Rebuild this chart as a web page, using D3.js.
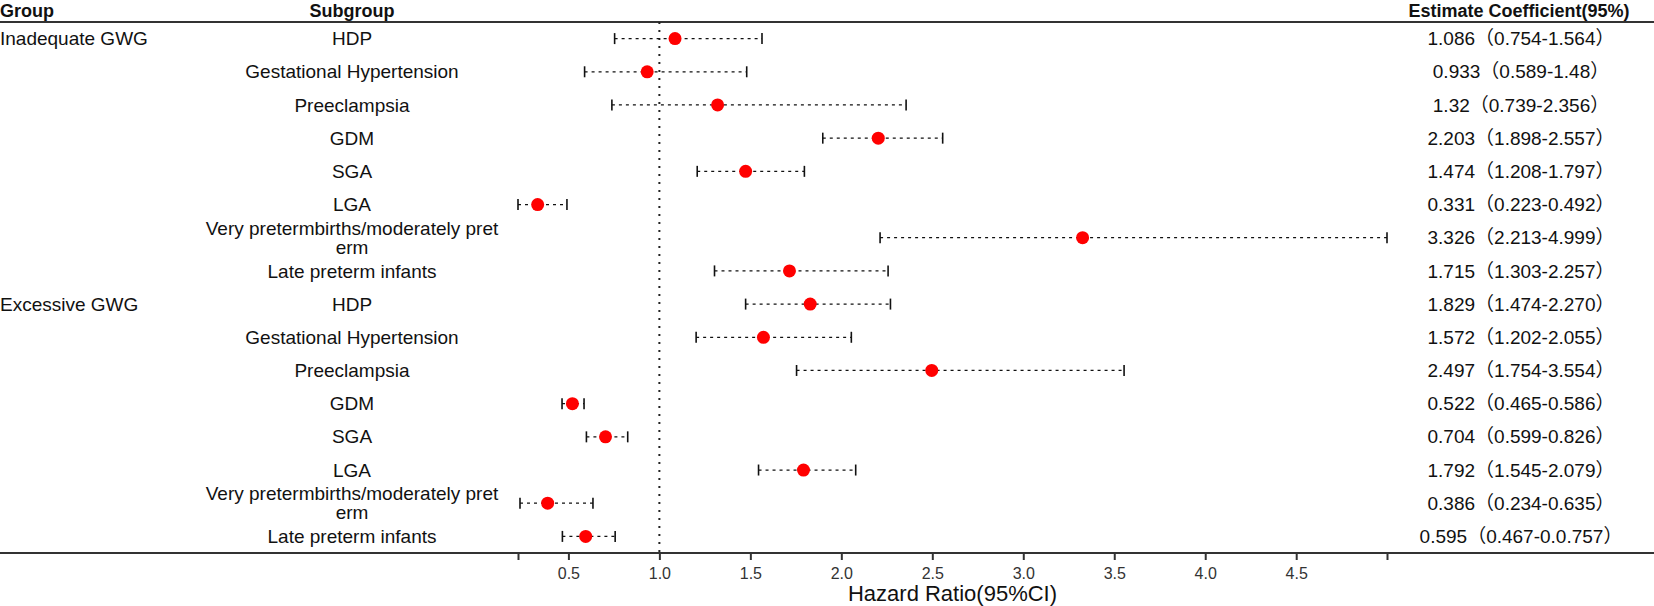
<!DOCTYPE html>
<html>
<head>
<meta charset="utf-8">
<script src="https://cdn.jsdelivr.net/npm/d3@7"></script>
<style>
  body { margin: 0; background: #fff; }
  svg { display: block; font-family: "Liberation Sans", Arial, sans-serif; }
</style>
</head>
<body>
<div id="chart"></div>
<script>
// rows of the forest plot, top to bottom
const groups = ['Inadequate GWG', '', '', '', '', '', '', '',
  'Excessive GWG', '', '', '', '', '', '', '']
const subgroups = ['HDP', 'Gestational Hypertension', 'Preeclampsia', 'GDM', 'SGA', 'LGA',
  'Very pretermbirths/moderately pret\nerm', 'Late preterm infants',
  'HDP', 'Gestational Hypertension', 'Preeclampsia', 'GDM', 'SGA', 'LGA',
  'Very pretermbirths/moderately pret\nerm', 'Late preterm infants']
const estimate = [1.086, 0.933, 1.32, 2.203, 1.474, 0.331, 3.326, 1.715,
  1.829, 1.572, 2.497, 0.522, 0.704, 1.792, 0.386, 0.595]
const lower = [0.754, 0.589, 0.739, 1.898, 1.208, 0.223, 2.213, 1.303,
  1.474, 1.202, 1.754, 0.465, 0.599, 1.545, 0.234, 0.467]
const upper = [1.564, 1.48, 2.356, 2.557, 1.797, 0.492, 4.999, 2.257,
  2.270, 2.055, 3.554, 0.586, 0.826, 2.079, 0.635, 0.757]
const estLabels = ['1.086（0.754-1.564）', '0.933（0.589-1.48）', '1.32（0.739-2.356）',
  '2.203（1.898-2.557）', '1.474（1.208-1.797）', '0.331（0.223-0.492）',
  '3.326（2.213-4.999）', '1.715（1.303-2.257）', '1.829（1.474-2.270）',
  '1.572（1.202-2.055）', '2.497（1.754-3.554）', '0.522（0.465-0.586）',
  '0.704（0.599-0.826）', '1.792（1.545-2.079）', '0.386（0.234-0.635）',
  '0.595（0.467-0.0.757）']
const tickValues = [0.5, 1.0, 1.5, 2.0, 2.5, 3.0, 3.5, 4.0, 4.5]
const tickLabels = ['0.5', '1.0', '1.5', '2.0', '2.5', '3.0', '3.5', '4.0', '4.5']

const width = 1654
const height = 606
const topLine = 22
const axisY = 553

const svg = d3.select('#chart')
  .append('svg')
  .attr('width', width)
  .attr('height', height)

const rows = d3.range(estimate.length)

const x = d3.scaleLinear()
  .domain([d3.min(lower), d3.max(upper)])
  .range([518, 1387])

const y = d3.scaleBand()
  .domain(rows)
  .range([topLine, axisY])

const rowY = i => y(i) + y.bandwidth() / 2

// column headers
const header = svg.append('g')
  .attr('font-weight', 'bold')
  .attr('font-size', 18)
  .attr('fill', '#111')
header.append('text').attr('x', 0).attr('y', 16.6).text('Group')
header.append('text').attr('x', 352).attr('y', 16.6).attr('text-anchor', 'middle').text('Subgroup')
header.append('text').attr('x', 1519).attr('y', 16.6).attr('text-anchor', 'middle').text('Estimate Coefficient(95%)')

svg.append('line')
  .attr('x1', 0).attr('x2', width)
  .attr('y1', topLine).attr('y2', topLine)
  .attr('stroke', '#333')
  .attr('stroke-width', 2)

// reference line at HR = 1
svg.append('line')
  .attr('x1', x(1)).attr('x2', x(1))
  .attr('y1', topLine).attr('y2', axisY)
  .attr('stroke', '#222')
  .attr('stroke-width', 2)
  .attr('stroke-dasharray', '2,6')

// text columns
const body = svg.append('g')
  .attr('font-size', 19)
  .attr('fill', '#111')

body.selectAll('.group')
  .data(rows)
  .enter()
  .append('text')
  .attr('class', 'group')
  .attr('x', 0)
  .attr('y', d => rowY(d))
  .attr('dy', '0.35em')
  .text(d => groups[d])

body.selectAll('.subgroup')
  .data(rows)
  .enter()
  .append('text')
  .attr('class', 'subgroup')
  .attr('text-anchor', 'middle')
  .each(function(d) {
    const lines = subgroups[d].split('\n')
    const lh = 19
    const y0 = rowY(d) - (lines.length - 1) * lh / 2
    d3.select(this).selectAll('tspan')
      .data(lines)
      .enter()
      .append('tspan')
      .attr('x', 352)
      .attr('y', (l, k) => y0 + k * lh)
      .attr('dy', '0.35em')
      .text(l => l)
  })

body.selectAll('.est')
  .data(rows)
  .enter()
  .append('text')
  .attr('class', 'est')
  .attr('x', 1521)
  .attr('y', d => rowY(d))
  .attr('dy', '0.35em')
  .attr('text-anchor', 'middle')
  .style('font-family', '"Liberation Sans", "Noto Sans CJK SC", sans-serif')
  .text(d => estLabels[d])

// confidence intervals
const ci = svg.append('g')

ci.selectAll('.ci')
  .data(rows)
  .enter()
  .append('line')
  .attr('class', 'ci')
  .attr('x1', d => x(lower[d]))
  .attr('x2', d => x(upper[d]))
  .attr('y1', d => rowY(d))
  .attr('y2', d => rowY(d))
  .attr('stroke', '#111')
  .attr('stroke-width', 1.2)
  .attr('stroke-dasharray', '3,4')

const caps = rows.flatMap(d => [{ row: d, v: lower[d] }, { row: d, v: upper[d] }])
ci.selectAll('.cap')
  .data(caps)
  .enter()
  .append('line')
  .attr('class', 'cap')
  .attr('x1', d => x(d.v))
  .attr('x2', d => x(d.v))
  .attr('y1', d => rowY(d.row) - 5.5)
  .attr('y2', d => rowY(d.row) + 5.5)
  .attr('stroke', '#111')
  .attr('stroke-width', 1.6)

ci.selectAll('circle')
  .data(rows)
  .enter()
  .append('circle')
  .attr('cx', d => x(estimate[d]))
  .attr('cy', d => rowY(d))
  .attr('r', 6.5)
  .attr('fill', '#ff0000')

// x axis
svg.append('line')
  .attr('x1', 0).attr('x2', width)
  .attr('y1', axisY).attr('y2', axisY)
  .attr('stroke', '#333')
  .attr('stroke-width', 2)

const allTicks = [x.domain()[0]].concat(tickValues, [x.domain()[1]])
const axis = d3.axisBottom(x)
  .tickValues(allTicks)
  .tickFormat(d => {
    const k = tickValues.indexOf(d)
    return k >= 0 ? tickLabels[k] : ''
  })
  .tickSize(7)
  .tickPadding(8)
  .tickSizeOuter(0)

const axisG = svg.append('g')
  .attr('transform', `translate(0, ${axisY})`)
  .call(axis)
axisG.select('.domain').remove()
axisG.selectAll('.tick line').attr('stroke', '#333').attr('stroke-width', 2)
axisG.selectAll('.tick text')
  .attr('fill', '#333')
  .attr('font-size', 16)
  .attr('font-family', '"Liberation Sans", Arial, sans-serif')

svg.append('text')
  .attr('x', (x.range()[0] + x.range()[1]) / 2)
  .attr('y', 601)
  .attr('text-anchor', 'middle')
  .attr('font-size', 22)
  .attr('fill', '#111')
  .text('Hazard Ratio(95%CI)')
</script>
</body>
</html>
